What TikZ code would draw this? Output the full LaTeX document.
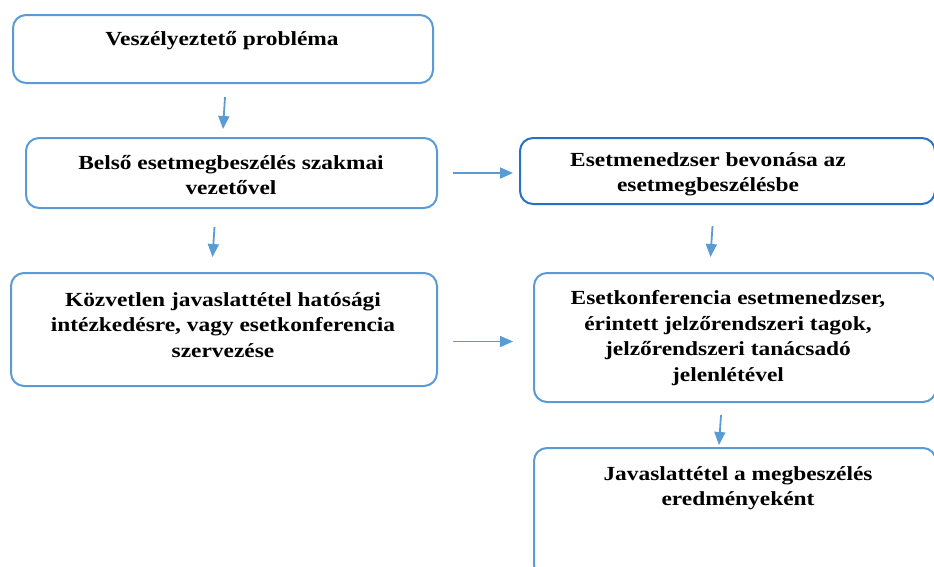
\documentclass[tikz,border=0pt]{standalone}
\usepackage{fontspec}
\setmainfont[FakeStretch=1.17]{Liberation Serif}
\usetikzlibrary{arrows.meta}
\definecolor{boxblue}{HTML}{5B9BD5}
\definecolor{darkblue}{HTML}{2472C4}
\tikzset{
  box/.style={draw=boxblue, line width=2pt, rounded corners=13pt, anchor=north west, inner sep=0pt},
  txt/.style={align=center, inner sep=0pt, font=\fontsize{20}{25.5}\selectfont\bfseries},
  arr/.style={draw=boxblue, line width=1.8pt, -{Triangle[length=13pt,width=11pt]}},
}
\begin{document}
\begin{tikzpicture}[x=1pt,y=-1pt]
\useasboundingbox (0,0) rectangle (934,566);
\clip (0,0) rectangle (934,566);
% boxes
\node[box, minimum width=420pt, minimum height=68pt] (a) at (12,14) {};
\node[box, minimum width=411pt, minimum height=70pt] (b) at (25,137) {};
\node[box, draw=darkblue, minimum width=415pt, minimum height=66pt] (c) at (519,137) {};
\node[box, minimum width=426pt, minimum height=113pt] (d) at (10,272) {};
\node[box, minimum width=402pt, minimum height=129pt] (e) at (533,272) {};
\node[box, minimum width=402pt, minimum height=130pt] (f) at (533,447) {};
% texts
\node[txt] (at) at (222,41) {Veszélyeztető probléma};
\node[txt] (bt) at (231,175) {Belső esetmegbeszélés szakmai\\vezetővel};
\node[txt] (ct) at (708,174.5) {Esetmenedzser bevonása az\\esetmegbeszélésbe};
\node[txt] (dt) at (223,325) {Közvetlen javaslattétel hatósági\\intézkedésre, vagy esetkonferencia\\szervezése};
\node[txt] (et) at (728,338) {Esetkonferencia esetmenedzser,\\érintett jelzőrendszeri tagok,\\jelzőrendszeri tanácsadó\\jelenlétével};
\node[txt] (ft) at (738,488) {Javaslattétel a megbeszélés\\eredményeként};
% arrows
\draw[arr] ([xshift=2pt,yshift=-13pt]a.south) -- ([yshift=8pt]a.south |- b.north);
\draw[arr] ([xshift=15pt]b.east) -- ([xshift=-6pt]c.west |- b.east);
\draw[arr] ([xshift=-17pt,yshift=-18pt]b.south) -- ([xshift=-19pt,yshift=15pt]b.south |- d.north);
\draw[arr] ([xshift=-15pt,yshift=-21pt]c.south) -- ([xshift=-17pt,yshift=15pt]c.south |- e.north);
\draw[arr] ([xshift=15pt,yshift=-12pt]d.east) -- ([xshift=-20pt,yshift=-12pt]e.west |- d.east);
\draw[arr] ([xshift=-14pt,yshift=-12pt]e.south) -- ([xshift=-16pt,yshift=2pt]e.south |- f.north);
\end{tikzpicture}
\end{document}
